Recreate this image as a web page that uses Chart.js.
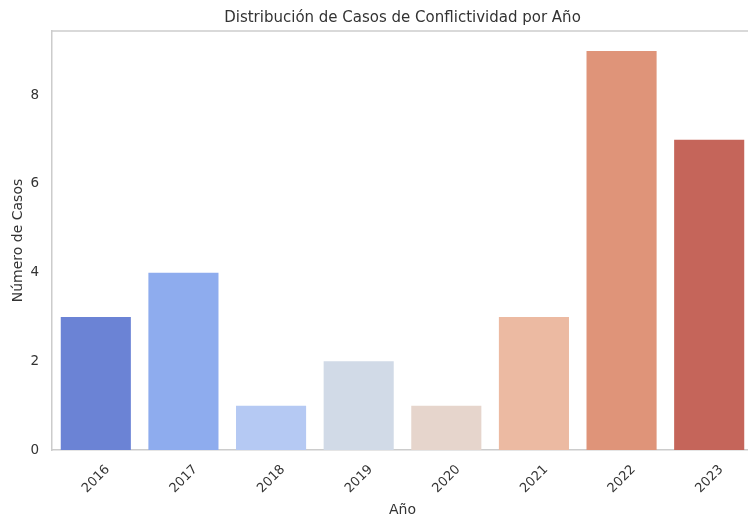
<!DOCTYPE html>
<html>
<head>
<meta charset="utf-8">
<script src="https://cdn.jsdelivr.net/npm/chart.js@4/dist/chart.umd.min.js"></script>
<style>
  html, body { margin: 0; padding: 0; background: #fff; overflow: hidden; }
  #wrap { width: 753px; height: 519px; }
</style>
</head>
<body>
<div id="wrap"><canvas id="c"></canvas></div>
<script>
// Data
const years = ["2016", "2017", "2018", "2019", "2020", "2021", "2022", "2023"];
const cases = [3, 4, 1, 2, 1, 3, 9, 7];
const barColors = ["#6b83d5", "#8eacee", "#b5c9f3", "#d1dae7", "#e6d5cc", "#ecbaa2", "#df9479", "#c5655a"];
const yTicks = [0, 2, 4, 6, 8];

const textColor = "#333333";
const spineColor = "#cccccc";
const font = "'DejaVu Sans', sans-serif";

// top spine + center the title over the plot area
const frame = {
  id: "frame",
  afterLayout(chart) {
    const t = chart.titleBlock;
    if (t) {
      t.left = chart.chartArea.left;
      t.right = chart.chartArea.right;
    }
  },
  afterDatasetsDraw(chart) {
    const { ctx, chartArea: a } = chart;
    ctx.save();
    ctx.strokeStyle = spineColor;
    ctx.lineWidth = 1.5;
    ctx.beginPath();
    ctx.moveTo(a.left, a.top);
    ctx.lineTo(a.right, a.top);
    ctx.stroke();
    ctx.restore();
  },
};

new Chart(document.getElementById("c"), {
  type: "bar",
  data: {
    labels: years,
    datasets: [{
      data: cases,
      backgroundColor: barColors,
      borderWidth: 0,
      categoryPercentage: 0.8,
      barPercentage: 1,
    }],
  },
  options: {
    responsive: true,
    maintainAspectRatio: false,
    animation: false,
    layout: { padding: 0 },
    plugins: {
      legend: { display: false },
      tooltip: { enabled: false },
      title: {
        display: true,
        text: "Distribución de Casos de Conflictividad por Año",
        color: textColor,
        font: { family: font, size: 15, weight: "normal" },
        padding: { top: 9, bottom: 4 },
      },
    },
    scales: {
      x: {
        grid: { display: false },
        border: { display: true, color: spineColor, width: 1.5 },
        ticks: {
          color: textColor,
          font: { family: font, size: 13 },
          minRotation: 45,
          maxRotation: 45,
          labelOffset: 12,
          padding: 4,
        },
        title: {
          display: true,
          text: "Año",
          color: textColor,
          font: { family: font, size: 14 },
          padding: { top: 3.6, bottom: 0 },
        },
        afterFit(s) { s.height = 69; },
      },
      y: {
        min: 0,
        max: 9.45,
        grid: { display: false, drawTicks: false },
        border: { display: true, color: spineColor, width: 1.5 },
        ticks: {
          color: textColor,
          font: { family: font, size: 13.5 },
          padding: 13,
        },
        afterBuildTicks(s) {
          s.ticks = yTicks.map((v) => ({ value: v }));
        },
        title: {
          display: true,
          text: "Número de Casos",
          color: textColor,
          font: { family: font, size: 14 },
          padding: { top: 9.5, bottom: 0 },
        },
        afterFit(s) { s.width = 52; },
      },
    },
  },
  plugins: [frame],
});
</script>
</body>
</html>
